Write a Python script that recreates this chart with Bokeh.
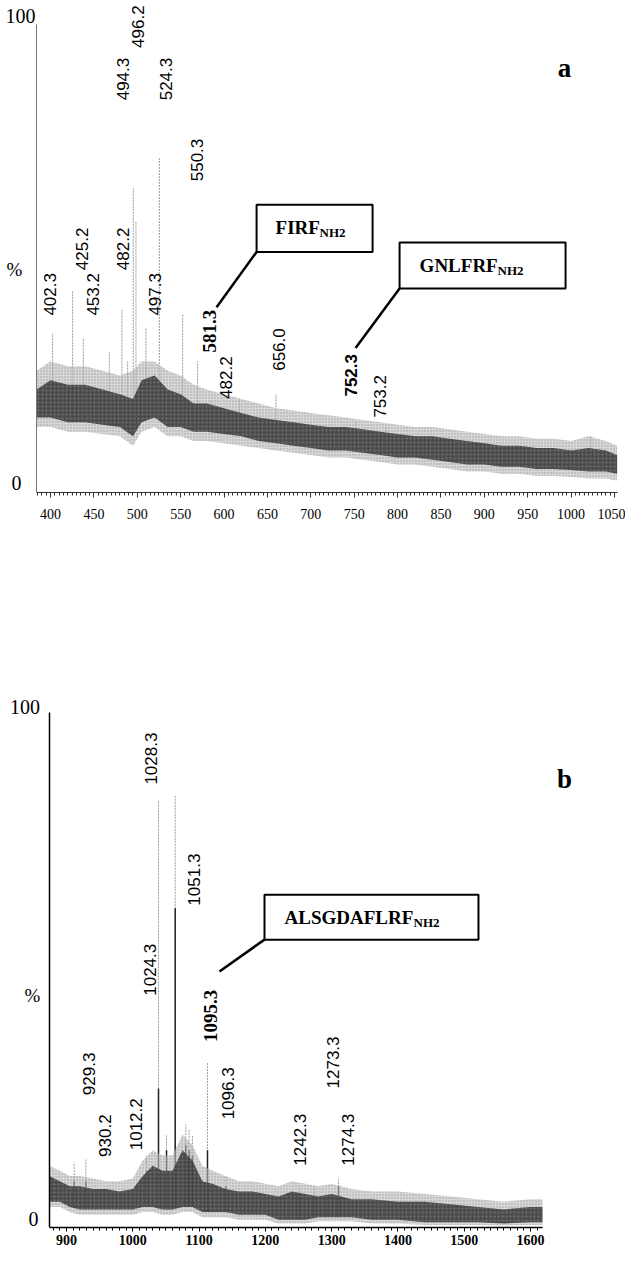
import numpy as np
from bokeh.plotting import figure
from bokeh.models import Range1d, SingleIntervalTicker, FixedTicker, Label
from bokeh.layouts import column
from bokeh.embed import file_html
from bokeh.resources import INLINE

# ---------------- DATA: panel a ----------------
a_band_mz = [384, 400, 420, 440, 460, 480, 495, 505, 520, 535, 550, 565, 580, 600, 620, 640, 660, 680, 700,
             720, 740, 760, 780, 800, 820, 840, 860, 880, 900, 920, 940, 960, 980, 1000, 1020, 1040, 1053]
a_band_lo = [16, 16, 15, 15, 14.5, 14, 12, 15, 16, 14, 14, 13, 13, 12.5, 12, 11, 10.5, 10, 9.5,
             9, 9, 8.5, 8, 7.5, 7.5, 7, 6.5, 6, 6, 5.5, 5.5, 5, 5, 4.8, 4.5, 4.5, 4]
a_band_hi = [22, 24, 23, 23, 22, 21, 20, 24, 25, 22, 21, 19, 19, 18, 17, 16, 15.5, 15, 14.5,
             14, 14, 13.5, 13, 12.5, 12, 12, 11.5, 11, 10.5, 10, 10, 9.5, 9.5, 9, 9.5, 9, 8]
a_band_faint = [26, 28, 27, 27, 26, 25, 26, 28, 28, 26, 25, 23, 22, 21, 20, 19, 18, 17.5, 17,
                16.5, 16, 15.5, 15, 14.5, 14, 14, 13.5, 13, 12.5, 12, 12, 11.5, 11.5, 11, 12, 11, 10]
a_band_faint_lo = [14, 14, 13, 13, 12.5, 12, 10, 13, 14, 12, 12, 11, 11, 10.5, 10, 9.5, 9, 8.5, 8,
                   7.5, 7.5, 7, 6.5, 6, 6, 5.5, 5, 4.5, 4.5, 4, 4, 3.5, 3.5, 3.3, 3, 3, 2.5]
a_peak_mz = [402.4, 425.5, 437.8, 467.8, 482.3, 488.9, 495.4, 498.5, 510.0, 525.4, 552.3, 569.5,
             584.9, 617.6, 659.8, 752.0, 786.6, 828.8, 1022.8]
a_peak_top = [34, 43, 33, 30, 39, 28, 65, 58, 35, 71.5, 38, 28, 19.5, 20, 21, 15, 14, 11, 12]
a_labels = ["402.3", "425.2", "453.2", "482.2", "494.3", "496.2", "497.3", "524.3", "550.3",
            "581.3", "482.2", "656.0", "752.3", "753.2"]
a_label_mz = [399.0, 435.9, 448.5, 483.1, 483.1, 500.4, 520.0, 532.7, 568.4, 583.4, 601.8, 662.9,
              745.9, 779.3]
a_peptides = ["FIRF", "GNLFRF"]
a_xticks_every = 50

# ---------------- DATA: panel b ----------------
b_band_mz = [874, 890, 905, 920, 940, 960, 980, 1000, 1015, 1030, 1045, 1060, 1075, 1090, 1105, 1120,
             1140, 1160, 1180, 1200, 1220, 1240, 1260, 1280, 1300, 1330, 1360, 1400, 1440, 1480,
             1520, 1560, 1600, 1618]
b_band_lo = [5, 5, 4, 3.5, 3.5, 3.5, 3.5, 3.5, 4, 4, 3.5, 3.5, 4, 4, 3, 3, 3, 2.5, 2.5, 2.5, 1.5,
             1.5, 1.5, 2, 2, 2, 1.5, 1.5, 1, 1, 1, 0.8, 1, 1]
b_band_hi = [10, 9, 8, 8, 7.5, 7.5, 7, 7.5, 10, 12, 11, 11, 15, 13, 9, 8.5, 7.5, 7, 7, 6.5, 6, 7,
             6.5, 6, 6.5, 5.5, 5.5, 5, 5, 4.5, 4, 3.5, 4, 4]
b_band_faint = [12, 11, 10, 10, 9.5, 9, 9, 9.5, 13, 15, 14, 14, 18, 16, 12, 11, 10, 9, 9, 8.5, 8,
                9, 8.5, 8, 8.5, 7.5, 7, 7, 6.5, 6, 5.5, 5, 5.5, 5.5]
b_band_faint_lo = [4, 4, 3, 2.5, 2.5, 2.5, 2.5, 2.5, 3, 3, 2.5, 2.5, 3, 3, 2, 2, 2, 1.5, 1.5, 1.5, 0.8,
                   0.8, 0.8, 1.2, 1.2, 1.2, 0.8, 0.8, 0.5, 0.5, 0.5, 0.4, 0.5, 0.5]
b_peak_mz = [911.6, 929.2, 1020.7, 1038.8, 1050.9, 1064.0, 1080.0, 1085.0, 1090.0, 1112.7, 1140.4,
             1251.0, 1273.7, 1292.3, 1310.4]
b_peak_top = [12.6, 13.4, 14, 83, 18, 84, 20, 19, 18, 32, 10, 8, 8, 6.5, 9.7]
b_peak_core = [9, 9, 11, 27, 15, 62, 16, 15, 14, 15, 8, 6, 6, 5, 8]
b_labels = ["1028.3", "1051.3", "1024.3", "1095.3", "1096.3", "929.3", "930.2", "1012.2",
            "1242.3", "1273.3", "1274.3"]
b_label_mz = [1026.8, 1093.1, 1025.3, 1117.3, 1142.9, 934.7, 957.4, 1004.1, 1253.0, 1301.3, 1324.0]
b_peptides = ["ALSGDAFLRF"]
b_xticks_every = 100

# ---------------- LAYOUT (annotation placement) ----------------
a_label_base = [37.8, 47.5, 37.8, 47.5, 83.8, 95, 37.8, 83.8, 66.5, 29.9, 20, 26, 20.5, 16]
a_label_style = ["n", "n", "n", "n", "n", "n", "n", "n", "n", "bs", "n", "n", "bb", "n"]
b_label_base = [86, 62.5, 45, 36, 21, 25.7, 13.7, 15, 12, 27, 12]
b_label_style = ["n", "n", "n", "bs", "n", "n", "n", "n", "n", "n", "n"]

SERIF = "Liberation Serif"
SANS = "Liberation Sans"


def lab(p, x, y, text, font=SERIF, size=16, bold=False, angle=0.0, align="center",
        baseline="middle", xo=0, yo=0):
    p.add_layout(Label(x=x, y=y, text=text, angle=angle, text_font=font,
                       text_font_size=f"{size}px",
                       text_font_style="bold" if bold else "normal",
                       text_align=align, text_baseline=baseline,
                       x_offset=xo, y_offset=yo, text_color="black"))


def base_fig(height, xr, yend, axis_x, axis_bounds, bt, bb, interval):
    p = figure(width=625, height=height, x_range=Range1d(*xr), y_range=Range1d(0, yend),
               output_backend="svg", toolbar_location=None,
               min_border_left=0, min_border_right=0, min_border_top=bt, min_border_bottom=bb)
    p.xgrid.visible = False
    p.ygrid.visible = False
    p.outline_line_color = None
    p.background_fill_color = "white"
    p.yaxis.ticker = FixedTicker(ticks=[])
    p.yaxis.major_tick_out = 0
    p.yaxis.minor_tick_out = 0
    p.yaxis.fixed_location = axis_x
    p.yaxis.bounds = (0, 100)
    p.xaxis.bounds = axis_bounds
    p.xaxis.ticker = SingleIntervalTicker(interval=interval, num_minor_ticks=10)
    p.xaxis.major_tick_in = 0
    p.xaxis.major_tick_out = 5
    p.xaxis.minor_tick_in = 0
    p.xaxis.minor_tick_out = 3
    p.xaxis.major_label_text_font = SERIF
    p.xaxis.major_label_text_font_size = "14px"
    p.xaxis.major_label_text_color = "black"
    return p


def spectrum(p, band_mz, flo, lo, hi, faint):
    p.varea(x=band_mz, y1=flo, y2=faint, fill_color="#bdbdbd", fill_alpha=0.6,
            hatch_pattern="dot", hatch_color="#777777", hatch_scale=3, hatch_alpha=0.6)
    p.varea(x=band_mz, y1=lo, y2=hi, fill_color="#3a3a3a", fill_alpha=0.88,
            hatch_pattern="dot", hatch_color="#9a9a9a", hatch_scale=4, hatch_alpha=0.5)


# ---------------- panel a ----------------
pa = base_fig(530, (342.38, 1062.67), 104.7, 383.9, (383.9, 1053.5), 2, 38, a_xticks_every)
pa.yaxis.axis_line_color = "#777777"
pa.yaxis.axis_line_width = 1
pa.xaxis.axis_line_color = "#333333"
pa.xaxis.major_tick_line_color = "#333333"
pa.xaxis.minor_tick_line_color = "#333333"
pa.xaxis.major_label_standoff = 11

a_base = np.interp(a_peak_mz, a_band_mz, a_band_lo)
pa.segment(x0=a_peak_mz, y0=a_base, x1=a_peak_mz, y1=a_peak_top, line_color="#9a9a9a", line_width=1,
           line_dash="2 1")
spectrum(pa, a_band_mz, a_band_faint_lo, a_band_lo, a_band_hi, a_band_faint)

for t, m, b, s in zip(a_labels, a_label_mz, a_label_base, a_label_style):
    if s == "bs":
        lab(pa, m, b, t, font=SERIF, size=19, bold=True, angle=np.pi / 2, align="left")
    elif s == "bb":
        lab(pa, m, b, t, font=SANS, size=17, bold=True, angle=np.pi / 2, align="left")
    else:
        lab(pa, m, b, t, font=SANS, size=17, angle=np.pi / 2, align="left")

pa.quad(left=[637.5, 802.3], right=[771.2, 993.6], bottom=[51.4, 43.6], top=[61.5, 53.4],
        fill_color="white", line_color="black", line_width=2)
pa.segment(x0=[637.5, 802.3], y0=[51.4, 43.6], x1=[591.4, 751.6], y1=[39.6, 30.9],
           line_color="black", line_width=2.5)
lab(pa, 659.4, 56.6, a_peptides[0], size=19, bold=True, align="left")
lab(pa, 659.4, 56.6, "NH2", size=13, bold=True, align="left", xo=44, yo=-5)
lab(pa, 825.4, 48.4, a_peptides[1], size=19, bold=True, align="left")
lab(pa, 825.4, 48.4, "NH2", size=13, bold=True, align="left", xo=78, yo=-5)

lab(pa, 992.4, 90.8, "a", size=27, bold=True)
lab(pa, 365.4, 101.9, "100", size=20)
lab(pa, 360.9, 2.1, "0", size=20)
lab(pa, 358.5, 47.6, "%", size=19)

# ---------------- panel b ----------------
pb = base_fig(720, (800.44, 1743.3), 105.83, 874.4, (874.4, 1618.2), 152, 23, b_xticks_every)
pb.yaxis.axis_line_color = "black"
pb.yaxis.axis_line_width = 1.5
pb.xaxis.axis_line_color = "black"
pb.xaxis.axis_line_width = 1.5
pb.xaxis.major_tick_out = 4
pb.xaxis.major_label_standoff = 3
pb.xaxis.major_label_text_font_style = "bold"

b_base = np.interp(b_peak_mz, b_band_mz, b_band_lo)
pb.segment(x0=b_peak_mz, y0=b_base, x1=b_peak_mz, y1=b_peak_top, line_color="#a0a0a0", line_width=1,
           line_dash="2 1")
pb.segment(x0=b_peak_mz, y0=b_base, x1=b_peak_mz, y1=b_peak_core, line_color="#222222", line_width=1.5)
spectrum(pb, b_band_mz, b_band_faint_lo, b_band_lo, b_band_hi, b_band_faint)

for t, m, b, s in zip(b_labels, b_label_mz, b_label_base, b_label_style):
    if s == "bs":
        lab(pb, m, b, t, font=SERIF, size=19, bold=True, angle=np.pi / 2, align="left")
    else:
        lab(pb, m, b, t, font=SANS, size=17, angle=np.pi / 2, align="left")

pb.quad(left=[1198.7], right=[1521.5], bottom=[55.9], top=[64.6],
        fill_color="white", line_color="black", line_width=2)
pb.segment(x0=[1198.7], y0=[55.9], x1=[1130.8], y1=[49.7], line_color="black", line_width=2.5)
lab(pb, 1228.9, 60.2, b_peptides[0], size=19, bold=True, align="left")
lab(pb, 1228.9, 60.2, "NH2", size=13, bold=True, align="left", xo=129, yo=-5)

lab(pb, 1651.2, 87, "b", size=27, bold=True)
lab(pb, 837.4, 101.1, "100", size=20)
lab(pb, 850.2, 1.6, "0", size=20)
lab(pb, 848.7, 45, "%", size=19)

layout = column(pa, pb)
open("out.html", "w").write(file_html(layout, INLINE))
